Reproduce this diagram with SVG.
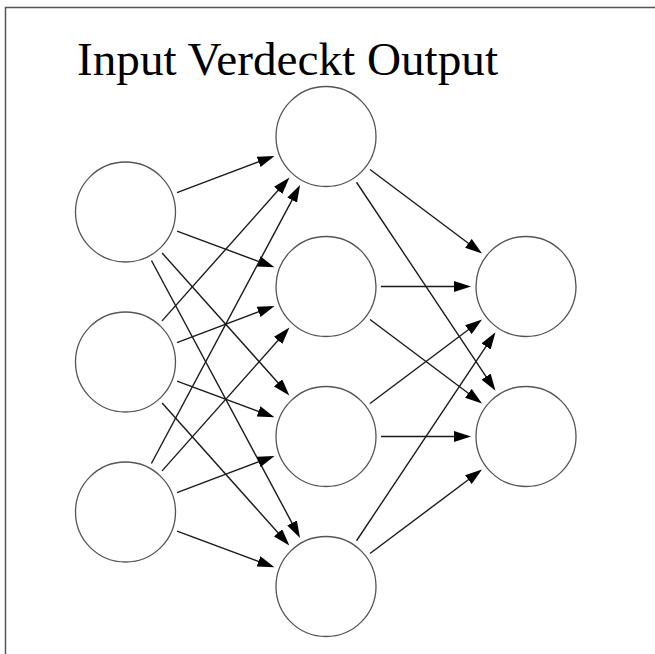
<svg xmlns="http://www.w3.org/2000/svg" width="655" height="654" viewBox="0 0 655 654">
<style>
.node{fill:#fff;stroke:#555;stroke-width:1.3}
.edge{stroke:#1a1a1a;stroke-width:1.4;fill:none;marker-end:url(#arr)}
.frame{stroke:#555;stroke-width:1.5;fill:none}
.title{font-family:"Liberation Serif","Times New Roman",serif;font-size:47px;fill:#000}
</style>
<defs>
<marker id="arr" markerUnits="userSpaceOnUse" markerWidth="18" markerHeight="11" refX="12" refY="5.5" orient="auto">
<path d="M0,0 L17,5.5 L0,11 z" fill="#000"/>
</marker>
</defs>
<rect width="655" height="654" fill="#fff"/>
<path class="frame" d="M5.5,654 V7.5 H655"/>
<text class="title" x="77" y="75" textLength="421" lengthAdjust="spacingAndGlyphs">Input Verdeckt Output</text>
<g id="connectors">
<line class="edge" x1="176.97" y1="192.62" x2="269.85" y2="157.64"/>
<line class="edge" x1="177.06" y1="231.16" x2="269.76" y2="265.60"/>
<line class="edge" x1="162.14" y1="253.02" x2="286.03" y2="391.75"/>
<line class="edge" x1="151.46" y1="260.49" x2="297.68" y2="533.60"/>
<line class="edge" x1="162.05" y1="320.90" x2="286.13" y2="181.34"/>
<line class="edge" x1="176.97" y1="342.62" x2="269.85" y2="307.64"/>
<line class="edge" x1="177.06" y1="381.16" x2="269.76" y2="415.60"/>
<line class="edge" x1="162.14" y1="403.02" x2="286.03" y2="541.75"/>
<line class="edge" x1="151.41" y1="463.48" x2="297.74" y2="189.43"/>
<line class="edge" x1="162.05" y1="470.90" x2="286.13" y2="331.34"/>
<line class="edge" x1="176.97" y1="492.62" x2="269.85" y2="457.64"/>
<line class="edge" x1="177.06" y1="531.16" x2="269.76" y2="565.60"/>
<line class="edge" x1="370" y1="169.5" x2="478" y2="250.5"/>
<line class="edge" x1="356.51" y1="182.26" x2="492.72" y2="386.58"/>
<line class="edge" x1="381" y1="286.5" x2="466" y2="286.5"/>
<line class="edge" x1="370" y1="319.5" x2="478" y2="400.5"/>
<line class="edge" x1="370" y1="403.5" x2="478" y2="322.5"/>
<line class="edge" x1="381" y1="436.5" x2="466" y2="436.5"/>
<line class="edge" x1="356.51" y1="540.74" x2="492.72" y2="336.42"/>
<line class="edge" x1="370" y1="553.5" x2="478" y2="472.5"/>
</g>
<g id="input1"><circle class="node" cx="125.5" cy="212" r="50"/></g>
<g id="input2"><circle class="node" cx="125.5" cy="362" r="50"/></g>
<g id="input3"><circle class="node" cx="125.5" cy="512" r="50"/></g>
<g id="hidden1"><circle class="node" cx="326" cy="136.5" r="50"/></g>
<g id="hidden2"><circle class="node" cx="326" cy="286.5" r="50"/></g>
<g id="hidden3"><circle class="node" cx="326" cy="436.5" r="50"/></g>
<g id="hidden4"><circle class="node" cx="326" cy="586.5" r="50"/></g>
<g id="output1"><circle class="node" cx="526" cy="286.5" r="50"/></g>
<g id="output2"><circle class="node" cx="526" cy="436.5" r="50"/></g>
</svg>
